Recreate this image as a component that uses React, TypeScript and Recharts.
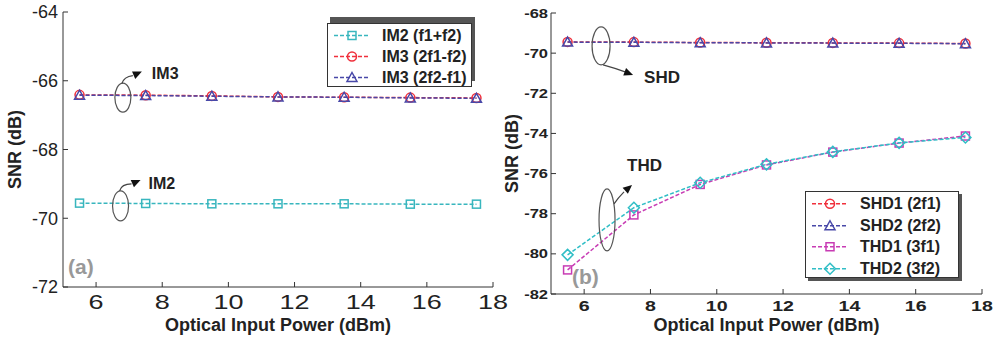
import React from "react";
import { LineChart, Line, XAxis, YAxis, Legend, ReferenceDot, Label } from "recharts";

// optical input power (dBm), same for every curve
const power = [5.5, 7.5, 9.5, 11.5, 13.5, 15.5, 17.5];

// (a) intermodulation products
const im2 = [-69.56, -69.57, -69.58, -69.58, -69.58, -69.59, -69.59];
const im3a = [-66.41, -66.42, -66.44, -66.47, -66.48, -66.49, -66.5];
const im3b = [-66.42, -66.43, -66.45, -66.47, -66.48, -66.5, -66.51];

// (b) harmonics
const shd1 = [-69.44, -69.45, -69.47, -69.48, -69.49, -69.5, -69.52];
const shd2 = [-69.45, -69.46, -69.48, -69.49, -69.5, -69.51, -69.53];
const thd1 = [-80.8, -78.06, -76.54, -75.57, -74.93, -74.48, -74.13];
const thd2 = [-80.05, -77.7, -76.46, -75.54, -74.92, -74.47, -74.2];

const xTicks = [6, 8, 10, 12, 14, 16, 18];
const yTicksA = [-72, -70, -68, -66, -64];
const yTicksB = [-82, -80, -78, -76, -74, -72, -70, -68];

const dataA = power.map((p, i) => ({ p, im2: im2[i], im3a: im3a[i], im3b: im3b[i] }));
const dataB = power.map((p, i) => ({ p, shd1: shd1[i], shd2: shd2[i], thd1: thd1[i], thd2: thd2[i] }));

const seriesA = [
  { key: "im2", name: "IM2 (f1+f2)", color: "#38b6be", shape: "square" },
  { key: "im3a", name: "IM3 (2f1-f2)", color: "#f0303c", shape: "circle" },
  { key: "im3b", name: "IM3 (2f2-f1)", color: "#4848a8", shape: "triangle" },
];
const seriesB = [
  { key: "shd1", name: "SHD1 (2f1)", color: "#f0303c", shape: "circle" },
  { key: "shd2", name: "SHD2 (2f2)", color: "#4848a8", shape: "triangle" },
  { key: "thd1", name: "THD1 (3f1)", color: "#c83cb4", shape: "square" },
  { key: "thd2", name: "THD2 (3f2)", color: "#30bec6", shape: "diamond" },
];

const FONT = "'Liberation Sans', Arial, sans-serif";
const AXIS = "#333";

function Marker({ shape, x, y, color }: { shape: string; x: number; y: number; color: string }) {
  const p = { fill: "none", stroke: color, strokeWidth: 1.5 };
  if (shape === "square") return <rect x={x - 4} y={y - 4} width={8} height={8} {...p} />;
  if (shape === "circle") return <circle cx={x} cy={y} r={4.5} {...p} />;
  if (shape === "triangle") return <polygon points={`${x},${y - 5} ${x + 5},${y + 4} ${x - 5},${y + 4}`} {...p} />;
  return <polygon points={`${x},${y - 5.5} ${x + 5.5},${y} ${x},${y + 5.5} ${x - 5.5},${y}`} {...p} />;
}

const tick = (size: number, weight: string, sx: number, anchor: string, dy: string) => (props: any) => {
  const { x, y, payload } = props;
  return (
    <g transform={`translate(${x},${y})`}>
      <text transform={`scale(${sx},1)`} textAnchor={anchor} dy={dy} fontSize={size} fontWeight={weight} fontFamily={FONT} fill="#222">
        {payload.value}
      </text>
    </g>
  );
};

const xTitle = (dy: number) => (props: any) => {
  const vb = props.viewBox;
  return (
    <text x={vb.x + vb.width / 2} y={vb.y + dy} textAnchor="middle" fontFamily={FONT} fontWeight="bold" fontSize={18} fill="#222">
      Optical Input Power (dBm)
    </text>
  );
};

const yTitle = (xPos: number) => (props: any) => {
  const vb = props.viewBox;
  const cy = vb.y + vb.height / 2;
  return (
    <text x={xPos} y={cy} transform={`rotate(-90 ${xPos} ${cy})`} textAnchor="middle" fontFamily={FONT} fontWeight="bold" fontSize={18} fill="#222">
      SNR (dB)
    </text>
  );
};

function head(tx: number, ty: number, fx: number, fy: number, len = 9, half = 4) {
  const dx = tx - fx, dy = ty - fy;
  const d = Math.hypot(dx, dy);
  const ux = dx / d, uy = dy / d;
  const bx = tx - ux * len, by = ty - uy * len;
  return `${tx},${ty} ${bx - uy * half},${by + ux * half} ${bx + uy * half},${by - ux * half}`;
}

// ellipse callout: ellipse around the curves, arrow and text, all relative to the ellipse centre
const callout = (o: any) => (props: any) => {
  const { cx, cy } = props;
  const [sx, sy] = o.from;
  const [mx, my] = o.mid;
  const [tx, ty] = o.tip;
  return (
    <g>
      <ellipse cx={cx} cy={cy} rx={o.rx} ry={o.ry} fill="none" stroke="#555" strokeWidth={1.2} />
      <path d={`M${cx + sx},${cy + sy} Q${cx + mx},${cy + my} ${cx + o.end[0]},${cy + o.end[1]}`} fill="none" stroke="#444" strokeWidth={1.2} />
      <polygon points={head(cx + tx, cy + ty, cx + o.end[0], cy + o.end[1])} fill="#111" />
      <text x={cx + o.text[0]} y={cy + o.text[1]} fontFamily={FONT} fontWeight="bold" fontSize={o.size} fill="#222">
        {o.label}
      </text>
    </g>
  );
};

const panelTag = (label: string, dx: number, dy: number) => (props: any) => (
  <text x={props.cx + dx} y={props.cy + dy} fontFamily={FONT} fontWeight="bold" fontSize={21} fill="#999">
    {label}
  </text>
);

const legendBox = (series: any[], box: any) => () => (
  <div
    style={{
      width: box.width,
      height: box.height,
      boxSizing: "border-box",
      border: `1px solid ${AXIS}`,
      background: "#fff",
      boxShadow: box.shadow,
      paddingTop: box.pad,
      fontFamily: FONT,
    }}
  >
    {series.map((s) => (
      <div key={s.key} style={{ position: "relative", height: box.row }}>
        <svg width={38} height={box.row} style={{ position: "absolute", left: 5, top: 0 }}>
          <line x1={1} x2={37} y1={box.row / 2} y2={box.row / 2} stroke={s.color} strokeWidth={1.5} strokeDasharray="4 2" />
          <Marker shape={s.shape} x={19} y={box.row / 2} color={s.color} />
        </svg>
        <span style={{ position: "absolute", left: 54, top: 0, lineHeight: `${box.row}px`, fontSize: 16, fontWeight: "bold", color: "#222", whiteSpace: "nowrap" }}>
          {s.name}
        </span>
      </div>
    ))}
  </div>
);

function frameAxes(domainY: number[], ticksY: number[]) {
  return [
    <XAxis key="top" xAxisId="top" orientation="top" type="number" domain={[5, 18]} ticks={xTicks} height={0} tick={false} tickSize={-5} stroke={AXIS} allowDataOverflow />,
    <YAxis key="right" yAxisId="right" orientation="right" type="number" domain={domainY} ticks={ticksY} width={0} tick={false} tickSize={-5} stroke={AXIS} allowDataOverflow />,
  ];
}

function renderLines(series: any[]) {
  return series.map((s) => (
    <Line
      key={s.key}
      dataKey={s.key}
      name={s.name}
      stroke={s.color}
      strokeWidth={1.5}
      strokeDasharray="4 2"
      isAnimationActive={false}
      dot={(p: any) => <Marker key={`${s.key}-${p.index}`} shape={s.shape} x={p.cx} y={p.cy} color={s.color} />}
    />
  ));
}

export default function App() {
  return (
    <div style={{ position: "absolute", left: 0, top: 0, width: 997, height: 342, background: "#fff" }}>
      <div style={{ position: "absolute", left: 0, top: 0 }}>
        <LineChart width={512} height={342} data={dataA} margin={{ top: 12, right: 19, bottom: 0, left: 0 }}>
          <XAxis dataKey="p" type="number" domain={[5, 18]} ticks={xTicks} height={55} tickSize={-5} tickMargin={13} stroke={AXIS} tick={tick(20, "normal", 1.35, "middle", "0.71em")}>
            <Label content={xTitle(44)} />
          </XAxis>
          <YAxis type="number" domain={[-72, -64]} ticks={yTicksA} width={63} tickSize={-5} tickMargin={10} stroke={AXIS} tick={tick(18, "normal", 1, "end", "0.35em")}>
            <Label content={yTitle(21)} />
          </YAxis>
          {frameAxes([-72, -64], yTicksA)}
          {renderLines(seriesA)}
          <ReferenceDot x={6.81} y={-66.49} r={0} shape={callout({ rx: 8, ry: 14.5, from: [-1, -14], mid: [1, -21], end: [10, -22], tip: [19, -26], text: [29, -19], size: 16, label: "IM3" })} />
          <ReferenceDot x={6.74} y={-69.64} r={0} shape={callout({ rx: 8, ry: 15, from: [-1, -15], mid: [1, -22], end: [11, -22], tip: [20, -26], text: [28, -17], size: 16, label: "IM2" })} />
          <ReferenceDot x={5} y={-72} r={0} shape={panelTag("(a)", 5, -13)} />
          <Legend layout="vertical" align="center" verticalAlign="middle" wrapperStyle={{ left: 327, top: 23, width: 145, height: 64 }} content={legendBox(seriesA, { width: 145, height: 64, pad: 1, row: 21, shadow: "3px -6px 0 #555" })} />
        </LineChart>
      </div>
      <div style={{ position: "absolute", left: 500, top: 0 }}>
        <LineChart width={497} height={342} data={dataB} margin={{ top: 13, right: 15, bottom: 0, left: 0 }}>
          <XAxis dataKey="p" type="number" domain={[5, 18]} ticks={xTicks} height={48} tickSize={-5} tickMargin={12} stroke={AXIS} tick={tick(14, "bold", 1.4, "middle", "0.71em")}>
            <Label content={xTitle(37)} />
          </XAxis>
          <YAxis type="number" domain={[-82, -68]} ticks={yTicksB} width={51} tickSize={-5} tickMargin={8} stroke={AXIS} tick={tick(13, "bold", 1.27, "end", "0.35em")}>
            <Label content={yTitle(18)} />
          </YAxis>
          {frameAxes([-82, -68], yTicksB)}
          {renderLines(seriesB)}
          <ReferenceDot x={6.51} y={-69.64} r={0} shape={callout({ rx: 9, ry: 19, from: [2, 19], mid: [13, 22], end: [24, 26], tip: [32, 29], text: [43, 37], size: 17, label: "SHD" })} />
          <ReferenceDot x={6.69} y={-78.31} r={0} shape={callout({ rx: 8, ry: 31, from: [7, -16], mid: [11, -22], end: [17, -28], tip: [25, -35], text: [20, -49], size: 17, label: "THD" })} />
          <ReferenceDot x={5} y={-82} r={0} shape={panelTag("(b)", 21, -10)} />
          <Legend layout="vertical" align="center" verticalAlign="middle" wrapperStyle={{ left: 305, top: 191, width: 154, height: 87 }} content={legendBox(seriesB, { width: 154, height: 87, pad: 1, row: 21.5, shadow: "3px 3px 0 #555" })} />
        </LineChart>
      </div>
    </div>
  );
}
